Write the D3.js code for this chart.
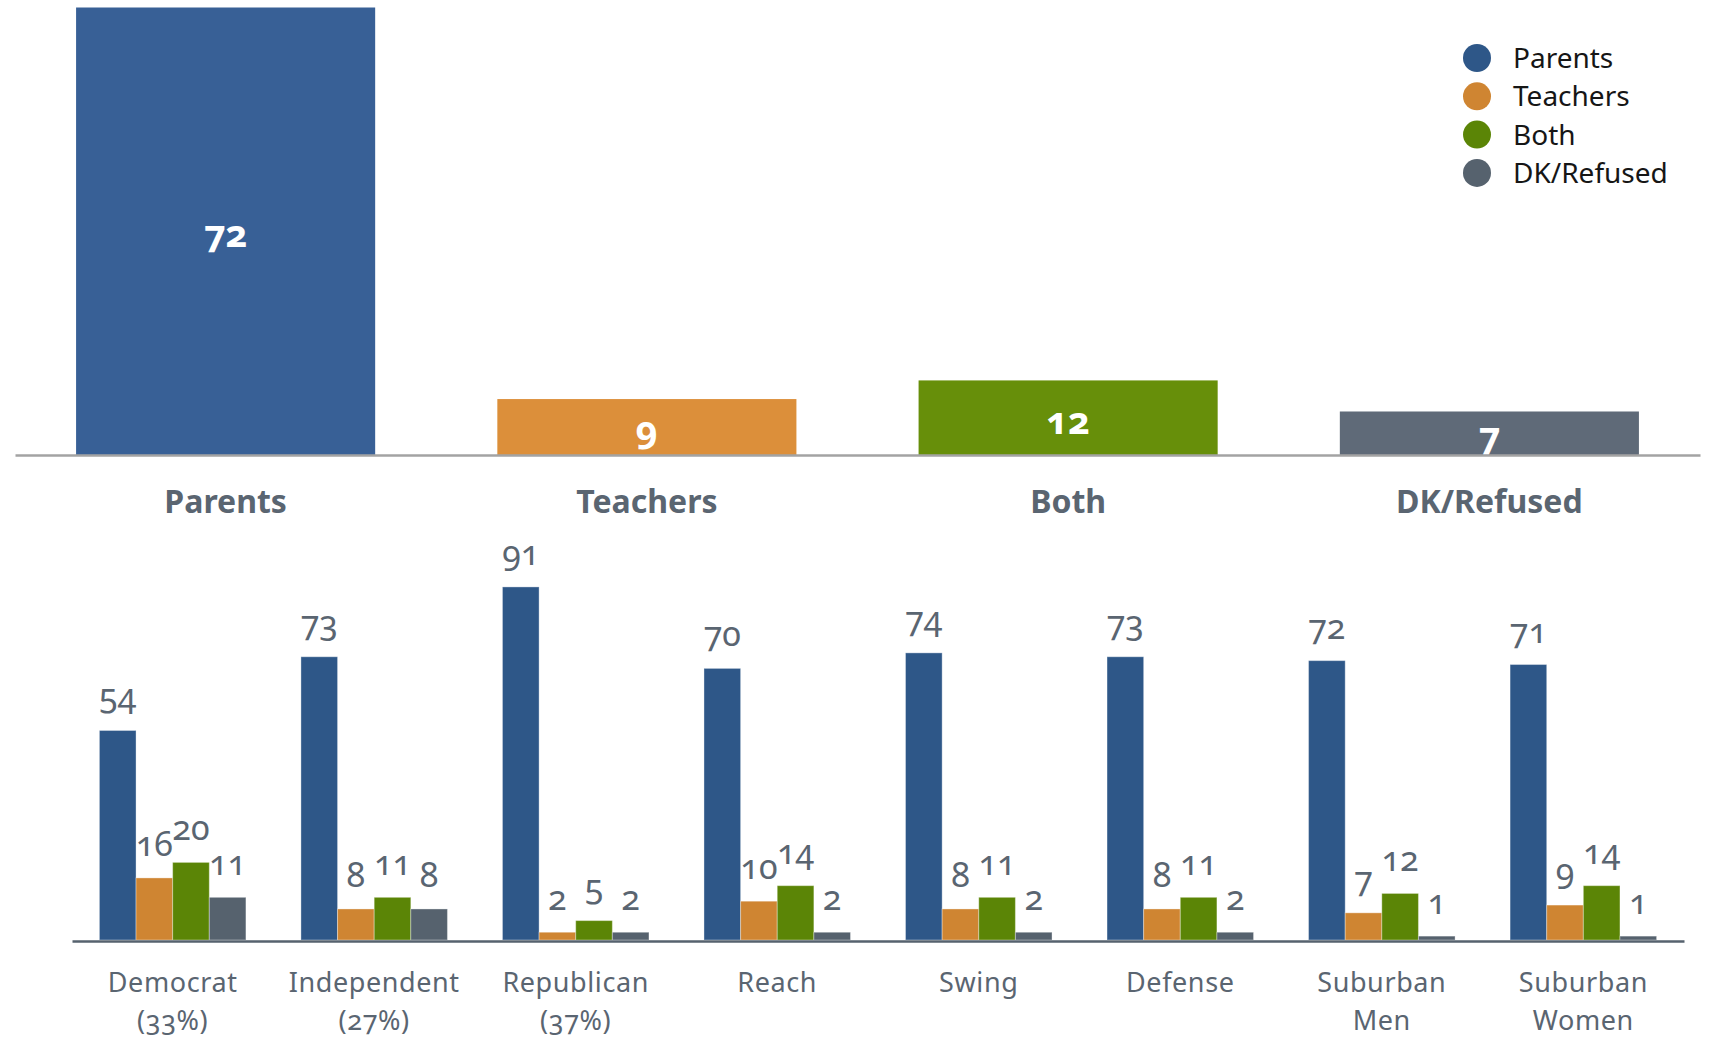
<!DOCTYPE html>
<html>
<head>
<meta charset="utf-8">
<script src="https://cdnjs.cloudflare.com/ajax/libs/d3/7.8.5/d3.min.js"></script>
<style>
  html, body { margin: 0; padding: 0; background: #fff; }
  svg { display: block; }
  .num { font-variant-numeric: oldstyle-nums; font-feature-settings: "onum" 1; }
</style>
</head>
<body>
<svg id="chart" width="1709" height="1037"></svg>
<script>
// Overall answer: who should decide
const answers = ["Parents", "Teachers", "Both", "DK/Refused"];
const overall = [72, 9, 12, 7];

// Breakdown by subgroup
const groups = [
  ["Democrat", "(33%)"],
  ["Independent", "(27%)"],
  ["Republican", "(37%)"],
  ["Reach"],
  ["Swing"],
  ["Defense"],
  ["Suburban", "Men"],
  ["Suburban", "Women"]
];
const parentsByGroup  = [54, 73, 91, 70, 74, 73, 72, 71];
const teachersByGroup = [16, 8, 2, 10, 8, 8, 7, 9];
const bothByGroup     = [20, 11, 5, 14, 11, 11, 12, 14];
const dkByGroup       = [11, 8, 2, 2, 2, 2, 1, 1];

const topColors = ["#386096", "#dc8f3a", "#678f0a", "#5f6a78"];
const subColors = ["#2e5788", "#cf8532", "#5b8506", "#56626e"];
const FONT = "'Noto Sans', 'Open Sans', sans-serif";
const labelGray = "#5a6571";

const svg = d3.select("#chart").style("font-family", FONT);

// ---------- Overall bars ----------
const xTop = d3.scaleBand().domain(answers).range([15, 1700])
  .paddingInner(0.29).paddingOuter(0.145);
const yTop = d3.scaleLinear().domain([0, 72]).range([455, 7.5]);

const topData = answers.map((a, i) => ({ key: a, value: overall[i], color: topColors[i] }));

svg.append("g").selectAll("rect").data(topData).join("rect")
  .attr("x", d => xTop(d.key))
  .attr("y", d => yTop(d.value))
  .attr("width", xTop.bandwidth())
  .attr("height", d => yTop(0) - yTop(d.value))
  .attr("fill", d => d.color);

svg.append("g").attr("transform", `translate(0,${yTop(0)})`)
  .call(d3.axisBottom(xTop).tickSize(0).tickFormat(""))
  .call(g => g.select(".domain").attr("stroke", "#a3a3a3").attr("stroke-width", 2.5));

svg.append("g").selectAll("text").data(topData).join("text")
  .attr("class", "num")
  .attr("x", d => xTop(d.key) + xTop.bandwidth() / 2)
  .attr("y", d => (yTop(d.value) + yTop(0)) / 2 + 16)
  .attr("text-anchor", "middle")
  .attr("fill", "#fff")
  .attr("font-weight", 700)
  .attr("font-size", 38)
  .text(d => d.value);

svg.append("g").selectAll("text").data(topData).join("text")
  .attr("x", d => xTop(d.key) + xTop.bandwidth() / 2)
  .attr("y", 513)
  .attr("text-anchor", "middle")
  .attr("fill", labelGray)
  .attr("font-weight", 700)
  .attr("font-size", 32)
  .text(d => d.key);

// Legend
const legend = svg.append("g").attr("transform", "translate(1477,58)");
const legItems = legend.selectAll("g").data(answers).join("g")
  .attr("transform", (d, i) => `translate(0,${i * 38.3})`);
legItems.append("circle").attr("r", 14).attr("fill", (d, i) => subColors[i]);
legItems.append("text").attr("x", 36).attr("y", 10)
  .attr("font-size", 28).attr("fill", "#161616").text(d => d);

// ---------- Subgroup bars ----------
const groupIds = groups.map((g, i) => i);
const x0 = d3.scaleBand().domain(groupIds).range([72, 1684])
  .paddingInner(0.273).paddingOuter(0.136);
const x1 = d3.scaleBand().domain(answers).range([0, x0.bandwidth()]).padding(0);
const yBot = d3.scaleLinear().domain([0, 100]).range([940, 552]);

const series = [parentsByGroup, teachersByGroup, bothByGroup, dkByGroup];
const subData = [];
groupIds.forEach(gi => {
  answers.forEach((a, si) => {
    subData.push({ group: gi, key: a, value: series[si][gi], color: subColors[si] });
  });
});

svg.append("g").selectAll("rect").data(subData).join("rect")
  .attr("x", d => x0(d.group) + x1(d.key))
  .attr("y", d => yBot(d.value))
  .attr("width", x1.bandwidth())
  .attr("height", d => yBot(0) - yBot(d.value))
  .attr("fill", d => d.color)
  .attr("stroke", "#ffffff")
  .attr("stroke-opacity", 0.35)
  .attr("stroke-width", 1);

svg.append("g").attr("transform", `translate(0,${yBot(0) + 1})`)
  .call(d3.axisBottom(x0).tickSize(0).tickFormat(""))
  .call(g => g.select(".domain").attr("stroke", "#56626e").attr("stroke-width", 2.5));

svg.append("g").selectAll("text").data(subData).join("text")
  .attr("class", "num")
  .attr("x", d => x0(d.group) + x1(d.key) + x1.bandwidth() / 2)
  .attr("y", d => yBot(d.value) - 22)
  .attr("text-anchor", "middle")
  .attr("fill", labelGray)
  .attr("font-size", 34)
  .text(d => d.value);

const gl = svg.append("g").selectAll("text").data(groupIds).join("text")
  .attr("text-anchor", "middle")
  .attr("fill", labelGray)
  .attr("font-size", 27)
  .attr("letter-spacing", 0.6);
gl.selectAll("tspan").data(gi => groups[gi].map(t => ({ gi, t }))).join("tspan")
  .attr("class", d => d.t.startsWith("(") ? "num" : null)
  .attr("x", d => x0(d.gi) + x0.bandwidth() / 2)
  .attr("y", (d, i) => 992 + i * 38)
  .text(d => d.t);
</script>
</body>
</html>
